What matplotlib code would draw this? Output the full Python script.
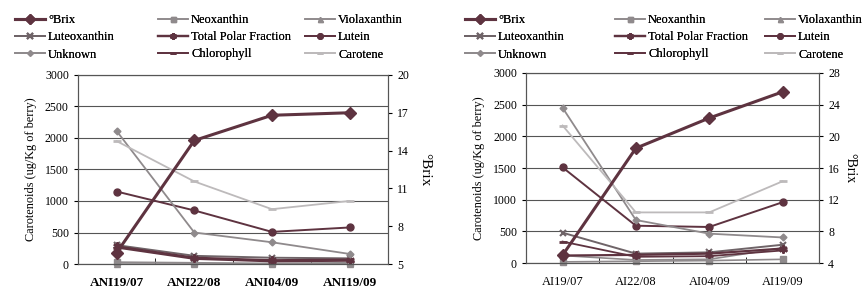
import numpy as np
import matplotlib.pyplot as plt

plt.rcParams['font.family'] = ['Liberation Serif', 'DejaVu Serif']

# ---- data ----
cats_ani = ['ANI19/07', 'ANI22/08', 'ANI04/09', 'ANI19/09']
cats_ai = ['AI19/07', 'AI22/08', 'AI04/09', 'AI19/09']

brix_ani = [5.9, 14.8, 16.8, 17.0]
neox_ani = [30, 20, 10, 20]
viola_ani = [0, 0, 0, 5]
lutx_ani = [300, 130, 100, 90]
tpf_ani = [280, 100, 60, 70]
lutein_ani = [1150, 850, 510, 580]
unk_ani = [2110, 500, 345, 160]
chl_ani = [260, 80, 40, 50]
car_ani = [1950, 1310, 870, 1000]

brix_ai = [5.0, 18.5, 22.3, 25.6]
neox_ai = [20, 30, 40, 60]
viola_ai = [120, 50, 60, 240]
lutx_ai = [480, 150, 170, 290]
tpf_ai = [120, 130, 150, 230]
lutein_ai = [1510, 590, 570, 960]
unk_ai = [2450, 680, 465, 405]
chl_ai = [340, 100, 110, 200]
car_ai = [2170, 800, 800, 1290]

dark = '#5e3340'
mid = '#6f6468'
grey = '#8f8a8c'
light = '#bdbabb'


def panel(rect, cats, brix, neox, viola, lutx, tpf, lutein, unk, chl, car,
          rticks, rlim, xbold, leg_cols, leg_top, brix_pad, brix_fs):
    ax = fig.add_axes(rect)
    ax2 = ax.twinx()
    x = np.arange(len(cats))
    h = {}
    h['brix'], = ax2.plot(x, brix, color=dark, lw=2.2, marker='D', ms=6, label='°Brix', clip_on=False, zorder=5)
    h['neox'], = ax.plot(x, neox, color=grey, lw=1.2, marker='s', ms=4.5, label='Neoxanthin', clip_on=False)
    h['viola'], = ax.plot(x, viola, color=grey, lw=1.2, marker='^', ms=4.5, label='Violaxanthin', clip_on=False)
    h['lutx'], = ax.plot(x, lutx, color=mid, lw=1.4, marker='x', ms=5, mew=1.5, label='Luteoxanthin', clip_on=False)
    h['tpf'], = ax.plot(x, tpf, color=dark, lw=1.6, marker=(6, 2, 0), ms=6, mew=1.5, label='Total Polar Fraction', clip_on=False)
    h['lutein'], = ax.plot(x, lutein, color=dark, lw=1.4, marker='o', ms=5, label='Lutein', clip_on=False)
    h['unk'], = ax.plot(x, unk, color=grey, lw=1.3, marker='D', ms=3.5, label='Unknown', clip_on=False)
    h['chl'], = ax.plot(x, chl, color=dark, lw=1.3, marker='_', ms=6, mew=2, label='Chlorophyll', clip_on=False)
    h['car'], = ax.plot(x, car, color=light, lw=1.3, marker='_', ms=6, mew=2, label='Carotene', clip_on=False)

    ax.set_xlim(-0.5, len(cats) - 0.5)
    ax.set_ylim(0, 3000)
    ax.set_yticks(np.arange(0, 3001, 500))
    ax.yaxis.grid(True, color='#555555', lw=0.8)
    ax.set_axisbelow(True)
    ax.set_xticks(x)
    ax.set_xticklabels(cats, fontsize=9.5 if xbold else 9, fontweight='bold' if xbold else 'normal')
    ax.set_xticks(np.arange(-0.5, len(cats), 1), minor=True)
    ax.tick_params(axis='x', which='major', length=0, pad=9)
    ax.tick_params(axis='x', which='minor', length=4, direction='in')
    ax.tick_params(axis='y', labelsize=8.5, length=3)
    ax.set_ylabel('Carotenoids (ug/Kg of berry)', fontsize=8.8, labelpad=6)

    ax2.set_ylim(*rlim)
    ax2.set_yticks(rticks)
    ax2.tick_params(axis='y', labelsize=8.5, length=3)
    ax2.set_ylabel('°Brix', fontsize=brix_fs, rotation=270, labelpad=brix_pad)
    for a in (ax, ax2):
        for s in a.spines.values():
            s.set_color('#555555')
            s.set_linewidth(0.8)

    groups = [['brix', 'lutx', 'unk'], ['neox', 'tpf', 'chl'], ['viola', 'lutein', 'car']]
    for gx, keys in zip(leg_cols, groups):
        lg = fig.legend([h[k] for k in keys], [h[k].get_label() for k in keys],
                        loc='upper left', bbox_to_anchor=(gx / 865, leg_top),
                        frameon=False, fontsize=9, markerscale=0.8,
                        handlelength=2.4, handletextpad=0.25, labelspacing=0.42,
                        borderaxespad=0, borderpad=0)
        fig.add_artist(lg)
    return ax


fig = plt.figure(figsize=(8.65, 2.95), dpi=100)
fig.patch.set_facecolor('white')

panel([0.090, 0.105, 0.359, 0.641], cats_ani, brix_ani, neox_ani, viola_ani,
      lutx_ani, tpf_ani, lutein_ani, unk_ani, chl_ani, car_ani,
      [5, 8, 11, 14, 17, 20], (5, 20), True, [15, 158, 305], 1 - 14 / 295, 16, 11)
panel([0.608, 0.108, 0.339, 0.645], cats_ai, brix_ai, neox_ai, viola_ai,
      lutx_ai, tpf_ai, lutein_ai, unk_ai, chl_ai, car_ai,
      [4, 8, 12, 16, 20, 24, 28], (4, 28), False, [465, 615, 765], 1 - 14 / 295, 12, 10)

fig.savefig('out.png', dpi=100)
